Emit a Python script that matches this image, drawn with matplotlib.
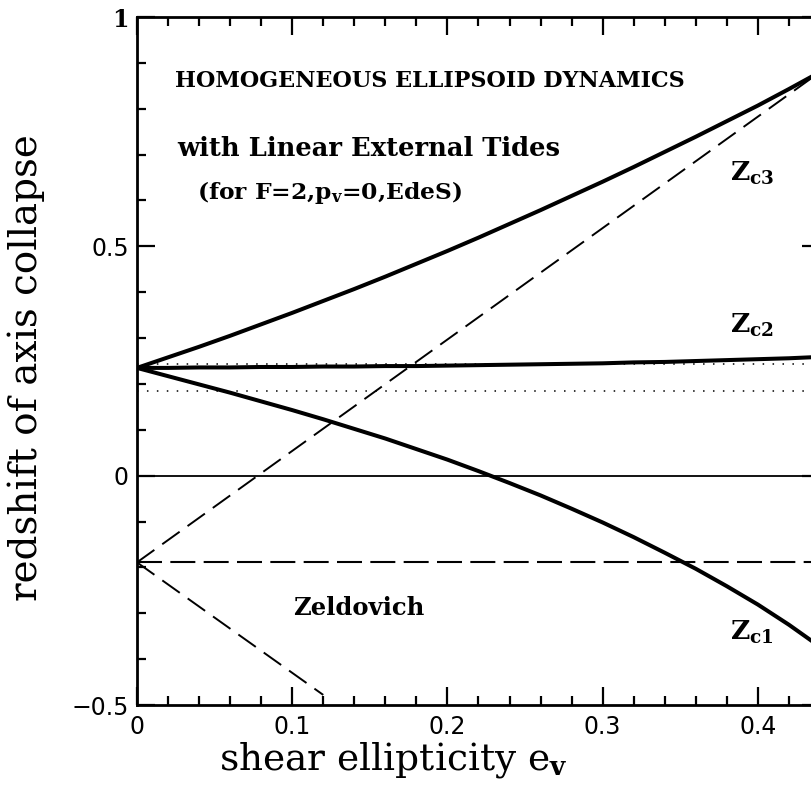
import matplotlib.pyplot as plt
from matplotlib.ticker import MultipleLocator

plt.rcParams['mathtext.fontset'] = 'dejavuserif'

# values
shear_e = [0, 0.02, 0.04, 0.06, 0.08, 0.10, 0.12, 0.14, 0.16, 0.18, 0.20, 0.22,
           0.24, 0.26, 0.28, 0.30, 0.32, 0.34, 0.36, 0.38, 0.40, 0.42, 0.44]
z_c3 = [0.235, 0.258, 0.281, 0.305, 0.330, 0.355, 0.381, 0.407, 0.434, 0.462, 0.490, 0.519,
        0.549, 0.579, 0.610, 0.641, 0.673, 0.706, 0.739, 0.773, 0.807, 0.843, 0.880]
z_c2 = [0.235, 0.235, 0.236, 0.236, 0.237, 0.237, 0.238, 0.238, 0.239, 0.239, 0.240, 0.241,
        0.242, 0.243, 0.244, 0.245, 0.247, 0.248, 0.250, 0.252, 0.254, 0.256, 0.259]
z_c1 = [0.235, 0.217, 0.199, 0.181, 0.162, 0.143, 0.123, 0.102, 0.081, 0.058, 0.035, 0.010,
        -0.016, -0.043, -0.072, -0.102, -0.134, -0.168, -0.203, -0.241, -0.281, -0.325, -0.373]

# Zeldovich approximation (straight lines)
zel_c3_e = [0, 0.44]
zel_c3 = [-0.189, 0.88]
zel_c1_e = [0, 0.12]
zel_c1 = [-0.189, -0.478]
zel_c2 = -0.189

dotted_levels = [0.243, 0.185]

x_ticks = [0, 0.1, 0.2, 0.3, 0.4]
x_labels = ['0', '0.1', '0.2', '0.3', '0.4']
y_ticks = [-0.5, 0, 0.5, 1]
y_labels = ['\u22120.5', '0', '0.5', '1']

fig = plt.figure(figsize=(8.12, 7.85), dpi=100)
ax = fig.add_axes([0.1687, 0.1019, 0.8411, 0.8764])

ax.plot(shear_e, z_c3, 'k', lw=2.9, solid_joinstyle='round')
ax.plot(shear_e, z_c2, 'k', lw=2.9, solid_joinstyle='round')
ax.plot(shear_e, z_c1, 'k', lw=2.9, solid_joinstyle='round')

ax.plot(zel_c3_e, zel_c3, 'k', lw=1.4, dashes=(11, 5))
ax.plot(zel_c1_e, zel_c1, 'k', lw=1.4, dashes=(11, 5))
ax.axhline(zel_c2, color='k', lw=1.5, dashes=(12, 4))

for lev in dotted_levels:
    ax.axhline(lev, color='k', lw=1.1, dashes=(1, 5.5))
ax.axhline(0, color='k', lw=1.3)

ax.set_xlim(0, 0.44)
ax.set_ylim(-0.5, 1)

ax.set_xticks(x_ticks)
ax.set_xticklabels(x_labels)
ax.set_yticks(y_ticks)
ax.set_yticklabels(y_labels)
ax.xaxis.set_minor_locator(MultipleLocator(0.02))
ax.yaxis.set_minor_locator(MultipleLocator(0.1))
ax.tick_params(which='both', direction='in', top=True, right=True, width=1.6, color='k')
ax.tick_params(which='major', length=13, labelsize=17)
ax.tick_params(axis='x', which='major', pad=7)
ax.tick_params(axis='y', which='major', pad=6)
ax.tick_params(which='minor', length=6.5)
for sp in ax.spines.values():
    sp.set_linewidth(2)

ax.get_yticklabels()[-1].set_fontfamily('DejaVu Serif')
ax.get_yticklabels()[-1].set_fontweight('bold')

ax.set_xlabel(r'shear ellipticity $\mathrm{e}_{\mathbf{v}}$', family='DejaVu Serif', fontsize=27)
ax.set_ylabel('redshift of axis collapse', family='DejaVu Serif', fontsize=28)
ax.xaxis.set_label_coords(0.376, -0.051)
ax.yaxis.set_label_coords(-0.135, 0.491)
ax.xaxis.label.set_va('top')

txt = dict(family='DejaVu Serif', fontweight='bold', fontsize=16)
ax.text(0.0245, 0.847, 'HOMOGENEOUS ELLIPSOID DYNAMICS', **txt)
ax.text(0.0258, 0.6965, 'with Linear External Tides', family='DejaVu Serif',
        fontweight='bold', fontsize=18.5)
ax.text(0.0387, 0.603, r'(for F=2,p$_{\mathbf{v}}$=0,EdeS)', family='DejaVu Serif',
        fontweight='bold', fontsize=16.8)
ax.text(0.1006, -0.3035, 'Zeldovich', family='DejaVu Serif', fontweight='bold', fontsize=17.5)

zl = dict(family='DejaVu Serif', fontweight='bold', fontsize=19)
ax.text(0.382, 0.642, r'Z$_{\mathbf{c3}}$', **zl)
ax.text(0.382, 0.312, r'Z$_{\mathbf{c2}}$', **zl)
ax.text(0.382, -0.358, r'Z$_{\mathbf{c1}}$', **zl)

fig.savefig('out.png', dpi=100)
